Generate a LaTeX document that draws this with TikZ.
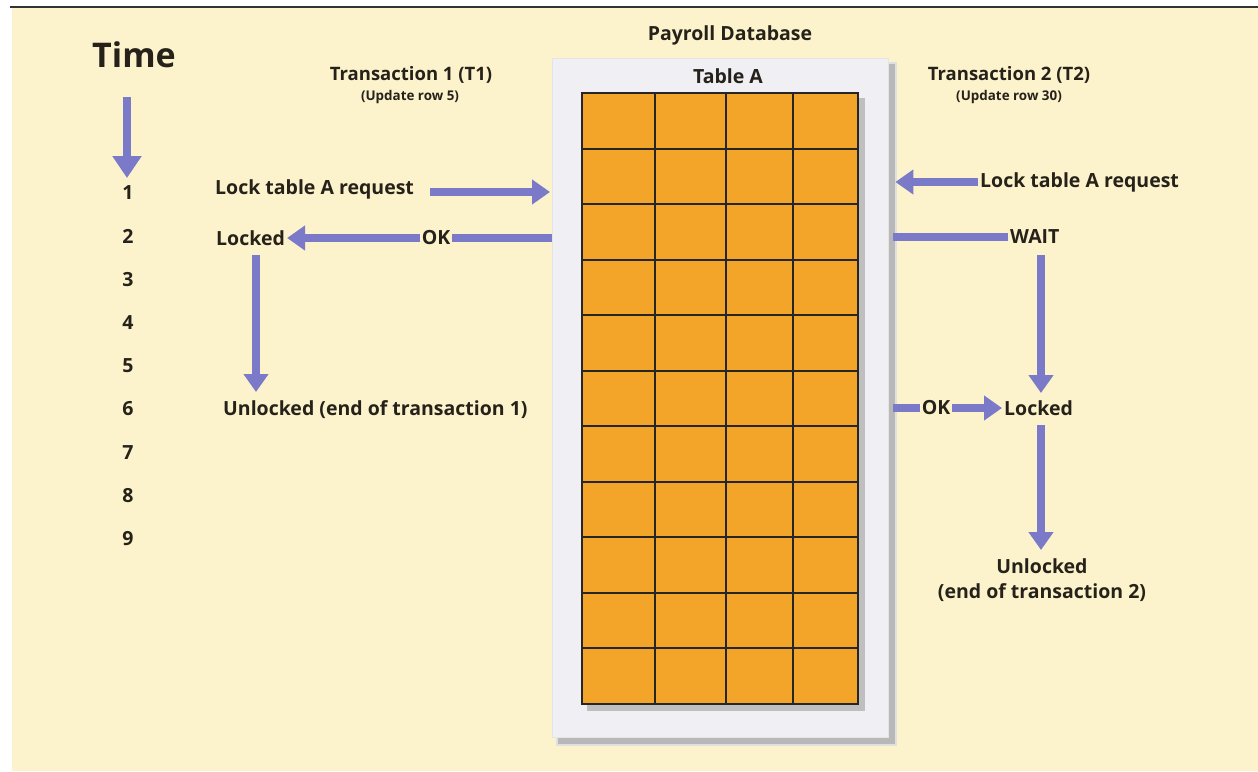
\documentclass[tikz,border=0pt]{standalone}
\usepackage{fontspec}
\setmainfont{Open Sans}
\usetikzlibrary{arrows.meta,calc}
\definecolor{cream}{RGB}{252,243,205}
\definecolor{arr}{RGB}{122,122,200}
\definecolor{orng}{RGB}{243,165,42}
\definecolor{txt}{RGB}{38,34,26}
\definecolor{framec}{RGB}{239,239,244}
\begin{document}
\begin{tikzpicture}[x=1pt,y=-1pt,
  lbl/.style={font=\bfseries\fontsize{19.5}{22}\selectfont, text=txt, inner sep=2pt},
  ttl/.style={font=\bfseries\fontsize{18.5}{21}\selectfont, text=txt, inner sep=2pt},
  small/.style={font=\bfseries\fontsize{13.4}{15}\selectfont, text=txt, inner sep=1pt},
  flow/.style={draw=arr, line width=8pt, -{Triangle[width=24pt,length=18pt]}},
  bar/.style={draw=arr, line width=8pt},
]
\useasboundingbox (0,0) rectangle (1258,771);
\fill[white] (0,0) rectangle (1258,771);
\fill[cream] (12,8) rectangle (1258,771);
\draw[line width=2.5pt, black!80] (10,7) -- (1258,7);

% database frame
\fill[black!12] (556,62) rectangle (897,746);
\fill[black!28] (558,64) rectangle (895,744);
\node[fill=framec, draw=black!10, minimum width=336pt, minimum height=679pt, anchor=north west, inner sep=0pt] (db) at (552,58) {};
% grid
\fill[black!25] (587,98) rectangle (865,711);
\node[fill=orng, minimum width=276pt, minimum height=611pt, anchor=north west, inner sep=0pt] (tbl) at (582,93) {};
\foreach \xx in {582,655,726,793,858} \draw[line width=2pt, black!85] (\xx,93) -- (\xx,704);
\foreach \i in {0,...,11} \draw[line width=2pt, black!85] (581,93+\i*55.545) -- (859,93+\i*55.545);

\node[lbl] (pd) at (730,35) {Payroll Database};
\node[lbl] (ta) at (728,76) {Table A};

% time axis
\node[font=\bfseries\fontsize{34}{36}\selectfont, text=txt] (time) at (134,55) {Time};
\coordinate (tstart) at (127,97);
\coordinate (tend) at (127,178);
\draw[draw=arr, line width=8pt, -{Triangle[width=28pt,length=22pt]}] (tstart) -- (tend);
\foreach \n in {1,...,9} \node[lbl] (n\n) at (128,{193+43.2*(\n-1)}) {\n};

% transaction 1
\node[ttl] (t1) at (411,75) {Transaction 1 (T1)};
\node[small] (u1) at (410,97) {(Update row 5)};
\node[lbl, anchor=west] (req1) at (213,189) {Lock table A request};
\coordinate (r1tip) at (550,192);
\coordinate (r1start) at ($(req1.east |- r1tip)+(14,0)$);
\draw[flow] (r1start) -- (r1tip);
\node[lbl, anchor=west] (lk1) at (214,238) {Locked};
\node[lbl] (ok1) at (436,238) {OK};
\draw[bar] (db.west |- ok1) -- (ok1.east);
\draw[flow] (ok1.west) -- (lk1.east);
\node[lbl, anchor=west] (ul1) at (221,410) {Unlocked (end of transaction 1)};
\coordinate (d1a) at (256,255);
\coordinate (d1b) at (256,392);
\draw[flow] (d1a) -- (d1b);

% transaction 2
\node[ttl] (t2) at (1009,75) {Transaction 2 (T2)};
\node[small] (u2) at (1009,97) {(Update row 30)};
\node[lbl, anchor=west] (req2) at (978,182) {Lock table A request};
\coordinate (r2tip) at ($(req2.west -| db.east)+(7,0)$);
\draw[flow] (req2.west) -- (r2tip);
\node[lbl, anchor=west] (wait) at (1008,237) {WAIT};
\coordinate (wstart) at (893,237);
\draw[bar] (wstart) -- (wait.west);
\node[lbl, anchor=west] (lk2) at (1002,408) {Locked};
\node[lbl] (ok2) at (936,408) {OK};
\coordinate (okstart) at (893,408);
\draw[bar] (okstart) -- (ok2.west);
\draw[flow] (ok2.east) -- (lk2.west);
\coordinate (d2a) at (1041,255);
\coordinate (d2b) at (1041,393);
\draw[flow] (d2a) -- (d2b);
\node[lbl] (ul2) at (1042,566) {Unlocked};
\node[lbl] (ul2b) at (1042,593) {(end of transaction 2)};
\coordinate (d3a) at (1041,425);
\coordinate (d3b) at (1041,550);
\draw[flow] (d3a) -- (d3b);
\end{tikzpicture}
\end{document}
